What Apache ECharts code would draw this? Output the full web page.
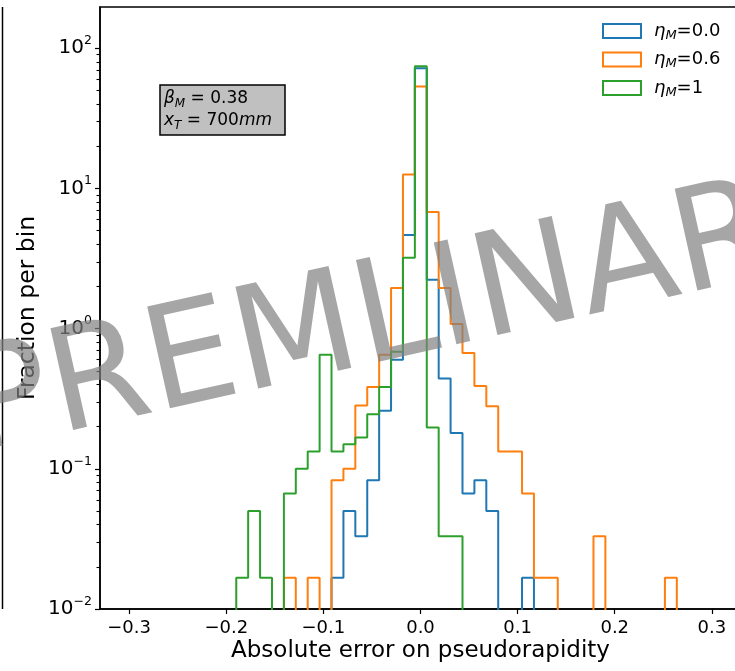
<!DOCTYPE html>
<html>
<head>
<meta charset="utf-8">
<script src="https://cdn.jsdelivr.net/npm/echarts@6/dist/echarts.min.js"></script>
<style>
  html, body { margin: 0; padding: 0; background: #fff; }
  #container { width: 735px; height: 671px; }
</style>
</head>
<body>
<div id="container"></div>
<script>
// histogram bins (shared by all three series)
var BIN_START = -0.1897;
var BIN_WIDTH = 0.01226;
var N_BINS = 37;

// fraction per bin, one value per bin
var eta00 = [0, 0, 0, 0, 0, 0, 0, 0, 0.0167, 0.05, 0.033, 0.083, 0.26, 0.6, 4.65, 72, 2.23, 0.44, 0.18, 0.0667,
             0.083, 0.05, 0, 0, 0.0167, 0, 0, 0, 0, 0, 0, 0, 0, 0, 0, 0, 0];
var eta06 = [0, 0, 0, 0, 0.0167, 0, 0.0167, 0, 0.083, 0.1, 0.283, 0.383, 0.65, 1.95, 12.6, 53.3, 6.8, 1.95, 1.08, 0.67,
             0.39, 0.28, 0.133, 0.133, 0.0667, 0.0167, 0.0167, 0, 0, 0, 0.033, 0, 0, 0, 0, 0, 0.0167];
var eta1  = [0.0167, 0.05, 0.0167, 0, 0.0667, 0.1, 0.133, 0.65, 0.133, 0.15, 0.167, 0.245, 0.383, 0.683, 3.2, 74.5, 0.197, 0.033, 0.033, 0,
             0, 0, 0, 0, 0, 0, 0, 0, 0, 0, 0, 0, 0, 0, 0, 0, 0];

var seriesNames = ['eta=0.0', 'eta=0.6', 'eta=1'];
var legendLabels = ['{i|η}{s|M}=0.0', '{i|η}{s|M}=0.6', '{i|η}{s|M}=1'];
var seriesColors = ['#1f77b4', '#ff7f0e', '#2ca02c'];

// ticks
var xTicks = [-0.3, -0.2, -0.1, 0.0, 0.1, 0.2, 0.3];
var yMajor = [0.01, 0.1, 1, 10, 100];

var X_MIN = -0.33, X_MAX = 0.33;
var Y_MIN = 0.01, Y_MAX = 197;

// empty bins sit far below the axis and get clipped
var FLOOR = 1e-4;

function binEdges() {
    var e = [];
    for (var k = 0; k <= N_BINS; k++) e.push(BIN_START + k * BIN_WIDTH);
    return e;
}

// step outline like matplotlib histtype='step'
function stepData(values) {
    var edges = binEdges();
    var pts = [[edges[0], FLOOR]];
    values.forEach(function (v, k) {
        pts.push([edges[k], v > 0 ? v : FLOOR]);
    });
    pts.push([edges[N_BINS], FLOOR]);
    return pts;
}

function expLabel(v) {
    var e = Math.round(Math.log10(v));
    return '{b|10}{p|' + (e < 0 ? '\u2212' + (-e) : e) + '}';
}

var dom = document.getElementById('container');
var myChart = echarts.init(dom, null, { renderer: 'canvas' });

var allValues = [eta00, eta06, eta1];

// main plot rect; a twin grid that stops at the last decade carries the minor log ticks
var GRID_LEFT = 100, GRID_TOP = 7, GRID_W = 641, GRID_H = 602;
var MINOR_MAX = yMajor[yMajor.length - 1];
var minorTop = GRID_TOP + GRID_H * (Math.log10(Y_MAX) - Math.log10(MINOR_MAX)) / (Math.log10(Y_MAX) - Math.log10(Y_MIN));

var option = {
    animation: false,
    backgroundColor: '#fff',
    textStyle: { fontFamily: 'DejaVu Sans', color: '#000' },
    grid: [
        {
            left: GRID_LEFT, top: GRID_TOP, width: GRID_W, height: GRID_H,
            show: true, borderColor: '#000', borderWidth: 1.5,
            outerBoundsMode: 'none', containLabel: false
        },
        {
            left: GRID_LEFT, top: minorTop, width: GRID_W, height: GRID_TOP + GRID_H - minorTop,
            show: false, outerBoundsMode: 'none', containLabel: false
        }
    ],
    legend: {
        orient: 'vertical',
        left: 602, top: 20,
        padding: 0,
        itemWidth: 38, itemHeight: 14, itemGap: 6.5,
        selectedMode: false,
        data: seriesNames.map(function (n) { return { name: n, icon: 'emptyRect' }; }),
        formatter: function (n) { return legendLabels[seriesNames.indexOf(n)]; },
        textStyle: {
            fontSize: 18, lineHeight: 22, color: '#000', padding: [0, 0, 0, 8],
            rich: {
                i: { fontSize: 18, fontStyle: 'italic', lineHeight: 22 },
                s: { fontSize: 13, fontStyle: 'italic', lineHeight: 13, verticalAlign: 'bottom' }
            }
        }
    },
    xAxis: [
        {
            type: 'value', gridIndex: 0,
            min: X_MIN, max: X_MAX,
            name: 'Absolute error on pseudorapidity',
            nameLocation: 'middle', nameGap: 31, nameMoveOverlap: false,
            nameTextStyle: { fontSize: 23, color: '#000' },
            axisLine: { show: true, onZero: false, lineStyle: { color: '#000', width: 1.5 } },
            axisTick: { show: true, length: 5, customValues: xTicks, lineStyle: { color: '#000', width: 1.2 } },
            axisLabel: {
                customValues: xTicks, margin: 10, fontSize: 18, color: '#000',
                formatter: function (v) { return (v < 0 ? '\u2212' : '') + Math.abs(v).toFixed(1); }
            },
            splitLine: { show: false }
        },
        {
            type: 'value', gridIndex: 1, min: X_MIN, max: X_MAX,
            axisLine: { show: false }, axisTick: { show: false }, axisLabel: { show: false }, splitLine: { show: false }
        }
    ],
    yAxis: [
        {
            type: 'log', logBase: 10, gridIndex: 0,
            min: Y_MIN, max: Y_MAX,
            position: 'left',
            name: 'Fraction per bin',
            nameLocation: 'middle', nameGap: 60, nameMoveOverlap: false,
            nameTextStyle: { fontSize: 23.5, color: '#000' },
            axisLine: { show: true, onZero: false, lineStyle: { color: '#000', width: 1.5 } },
            axisTick: { show: true, length: 5, customValues: yMajor, lineStyle: { color: '#000', width: 1.2 } },
            axisLabel: {
                customValues: yMajor, margin: 8, color: '#000',
                formatter: expLabel,
                rich: {
                    b: { fontSize: 20, lineHeight: 28 },
                    p: { fontSize: 12.5, lineHeight: 13, verticalAlign: 'top' }
                }
            },
            splitLine: { show: false }
        },
        {
            type: 'log', logBase: 10, gridIndex: 1,
            min: Y_MIN, max: MINOR_MAX,
            position: 'left',
            axisLine: { show: false, onZero: false },
            axisTick: { show: false },
            minorTick: { show: true, splitNumber: 9, length: 3.5, lineStyle: { color: '#000', width: 1.1 } },
            axisLabel: { show: false },
            splitLine: { show: false },
            minorSplitLine: { show: false }
        }
    ],
    series: allValues.map(function (vals, i) {
        return {
            name: seriesNames[i],
            type: 'line',
            step: 'end',
            xAxisIndex: 0,
            yAxisIndex: 0,
            data: stepData(vals),
            symbol: 'none',
            clip: true,
            color: seriesColors[i],
            lineStyle: { color: seriesColors[i], width: 2 },
            z: 2 + i
        };
    }),
    graphic: [
        // right spine of the neighbouring panel
        {
            type: 'line', z: 50,
            shape: { x1: 2.5, y1: 7, x2: 2.5, y2: 609 },
            style: { stroke: '#000', lineWidth: 1.5 }
        },
        // parameter box
        {
            type: 'rect', z: 50,
            shape: { x: 160, y: 85, width: 125, height: 50 },
            style: { fill: '#c0c0c0', stroke: '#000', lineWidth: 1.5 }
        },
        {
            type: 'text', z: 51,
            x: 164, y: 88,
            style: {
                text: '{i|β}{s|M}{n| = 0.38}\n{i|x}{s|T}{n| = 700}{i|mm}',
                fill: '#000',
                font: '17px "DejaVu Sans"',
                rich: {
                    i: { fontSize: 17, fontStyle: 'italic', lineHeight: 22, fontFamily: 'DejaVu Sans' },
                    n: { fontSize: 17, lineHeight: 22, fontFamily: 'DejaVu Sans' },
                    s: { fontSize: 12, fontStyle: 'italic', lineHeight: 12, verticalAlign: 'bottom', fontFamily: 'DejaVu Sans' }
                }
            }
        },
        // watermark
        {
            type: 'text', z: 100,
            x: 408, y: 317,
            rotation: 12.6 * Math.PI / 180,
            style: {
                text: 'PREMLINARY',
                font: '143px "DejaVu Sans"',
                fill: 'rgba(128,128,128,0.7)',
                align: 'center',
                verticalAlign: 'middle'
            }
        }
    ]
};

myChart.setOption(option);
window.addEventListener('resize', myChart.resize);
</script>
</body>
</html>
